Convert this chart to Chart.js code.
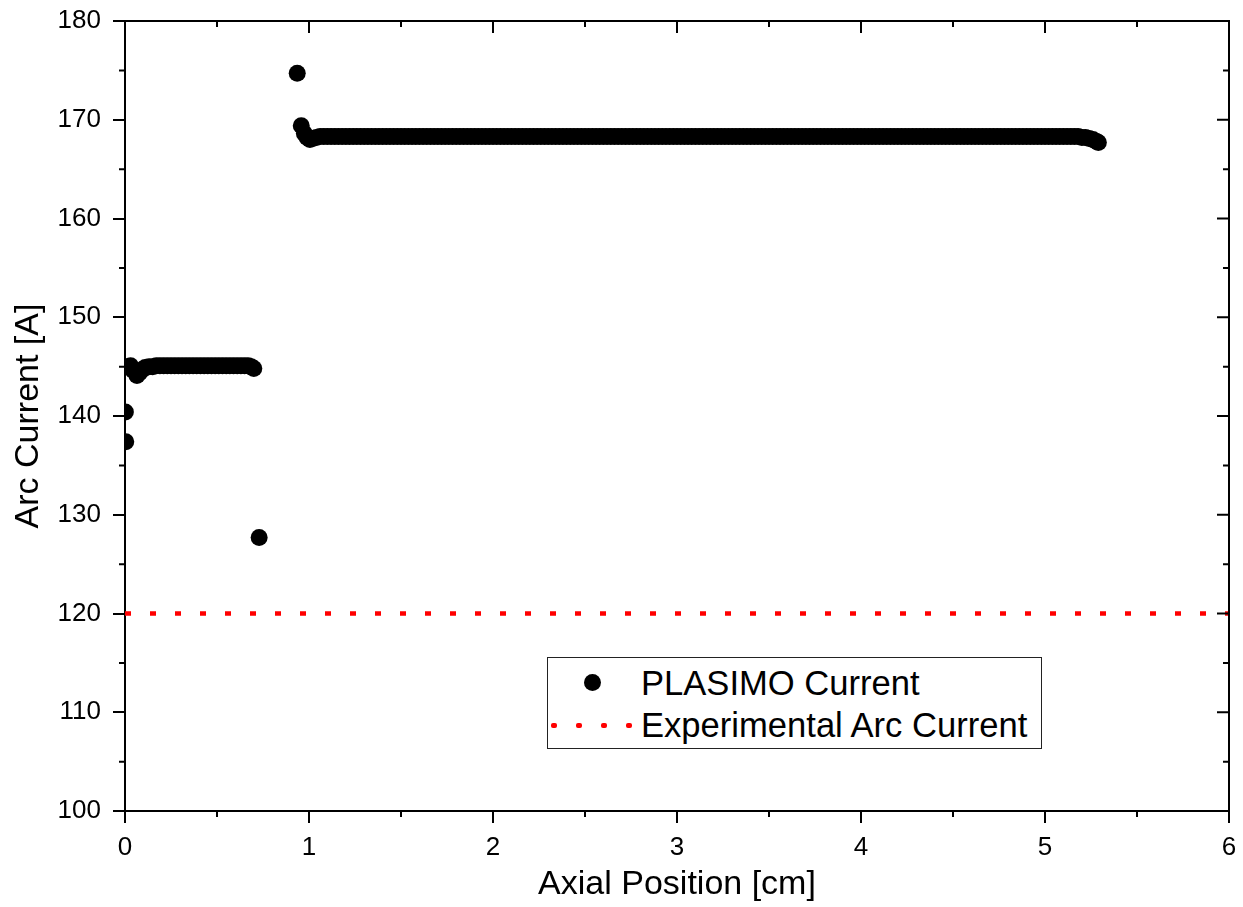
<!DOCTYPE html>
<html>
<head>
<meta charset="utf-8">
<script src="https://cdn.jsdelivr.net/npm/chart.js@4/dist/chart.umd.min.js"></script>
<style>
  html, body { margin: 0; padding: 0; background: #fff; }
  #wrap { position: relative; width: 1243px; height: 907px; }
  #legend {
    position: absolute; left: 547px; top: 657px; width: 493px; height: 90px;
    border: 1.5px solid #222; background: #fff;
    font-family: "Liberation Sans", Arial, sans-serif; font-size: 34.6px; color: #000;
  }
  .row { position: absolute; left: 0; height: 40px; line-height: 40px; white-space: nowrap; }
  .row span.t { position: absolute; left: 93px; top: 0; }
  .dot { position: absolute; width: 17px; height: 17px; border-radius: 50%; background: #000; left: 36px; top: 11px; }
  .rdot { position: absolute; width: 6px; height: 4.5px; background: #ff0000; top: 18px; border-radius: 2px; }
</style>
</head>
<body>
<div id="wrap">
  <canvas id="c" width="1243" height="907"></canvas>
  <div id="legend">
    <div class="row" style="top:5px;"><div class="dot"></div><span class="t">PLASIMO Current</span></div>
    <div class="row" style="top:47px;">
      <div class="rdot" style="left:3px"></div><div class="rdot" style="left:28px"></div>
      <div class="rdot" style="left:53px"></div><div class="rdot" style="left:78px"></div>
      <span class="t">Experimental Arc Current</span>
    </div>
  </div>
</div>
<script>
// ---- data (PLASIMO current, in segments) ----
const startX = [
  0.002, 0.004, 0.015, 0.030, 0.045, 0.065, 0.080, 0.095, 0.110, 0.130, 0.150,
  0.170, 0.190, 0.210, 0.230, 0.250, 0.270, 0.290, 0.310, 0.330, 0.350, 0.370, 0.390, 0.410,
  0.430, 0.450, 0.470, 0.490, 0.510, 0.530, 0.550, 0.570, 0.590, 0.610, 0.630, 0.650, 0.670,
  0.685, 0.700, 0.729
];
const startY = [
  140.4, 137.4, 145.0, 145.1, 144.6, 144.1, 144.4, 144.7, 144.9, 145.0, 145.0,
  145.1, 145.1, 145.1, 145.1, 145.1, 145.1, 145.1, 145.1, 145.1, 145.1, 145.1, 145.1, 145.1,
  145.1, 145.1, 145.1, 145.1, 145.1, 145.1, 145.1, 145.1, 145.1, 145.1, 145.1, 145.1, 145.1,
  145.0, 144.8, 127.7
];
const jumpX = [0.936, 0.958, 0.975, 0.990, 1.005, 1.020];
const jumpY = [174.7, 169.4, 168.6, 168.2, 168.0, 168.1];
const plateauX = [
  1.04, 1.06, 1.08, 1.10, 1.12, 1.14, 1.16, 1.18, 1.20, 1.22, 1.24, 1.26, 1.28, 1.30, 1.32, 1.34, 1.36, 1.38, 1.40, 1.42, 1.44, 1.46, 1.48,
  1.50, 1.52, 1.54, 1.56, 1.58, 1.60, 1.62, 1.64, 1.66, 1.68, 1.70, 1.72, 1.74, 1.76, 1.78, 1.80, 1.82, 1.84, 1.86, 1.88, 1.90, 1.92, 1.94, 1.96, 1.98,
  2.00, 2.02, 2.04, 2.06, 2.08, 2.10, 2.12, 2.14, 2.16, 2.18, 2.20, 2.22, 2.24, 2.26, 2.28, 2.30, 2.32, 2.34, 2.36, 2.38, 2.40, 2.42, 2.44, 2.46, 2.48,
  2.50, 2.52, 2.54, 2.56, 2.58, 2.60, 2.62, 2.64, 2.66, 2.68, 2.70, 2.72, 2.74, 2.76, 2.78, 2.80, 2.82, 2.84, 2.86, 2.88, 2.90, 2.92, 2.94, 2.96, 2.98,
  3.00, 3.02, 3.04, 3.06, 3.08, 3.10, 3.12, 3.14, 3.16, 3.18, 3.20, 3.22, 3.24, 3.26, 3.28, 3.30, 3.32, 3.34, 3.36, 3.38, 3.40, 3.42, 3.44, 3.46, 3.48,
  3.50, 3.52, 3.54, 3.56, 3.58, 3.60, 3.62, 3.64, 3.66, 3.68, 3.70, 3.72, 3.74, 3.76, 3.78, 3.80, 3.82, 3.84, 3.86, 3.88, 3.90, 3.92, 3.94, 3.96, 3.98,
  4.00, 4.02, 4.04, 4.06, 4.08, 4.10, 4.12, 4.14, 4.16, 4.18, 4.20, 4.22, 4.24, 4.26, 4.28, 4.30, 4.32, 4.34, 4.36, 4.38, 4.40, 4.42, 4.44, 4.46, 4.48,
  4.50, 4.52, 4.54, 4.56, 4.58, 4.60, 4.62, 4.64, 4.66, 4.68, 4.70, 4.72, 4.74, 4.76, 4.78, 4.80, 4.82, 4.84, 4.86, 4.88, 4.90, 4.92, 4.94, 4.96, 4.98,
  5.00, 5.02, 5.04, 5.06, 5.08, 5.10, 5.12, 5.14, 5.16, 5.18
];
const plateauY = [
  168.2, 168.3, 168.3, 168.3, 168.3, 168.3, 168.3, 168.3, 168.3, 168.3, 168.3, 168.3, 168.3, 168.3, 168.3, 168.3, 168.3, 168.3, 168.3, 168.3, 168.3, 168.3, 168.3,
  168.3, 168.3, 168.3, 168.3, 168.3, 168.3, 168.3, 168.3, 168.3, 168.3, 168.3, 168.3, 168.3, 168.3, 168.3, 168.3, 168.3, 168.3, 168.3, 168.3, 168.3, 168.3, 168.3, 168.3, 168.3,
  168.3, 168.3, 168.3, 168.3, 168.3, 168.3, 168.3, 168.3, 168.3, 168.3, 168.3, 168.3, 168.3, 168.3, 168.3, 168.3, 168.3, 168.3, 168.3, 168.3, 168.3, 168.3, 168.3, 168.3, 168.3,
  168.3, 168.3, 168.3, 168.3, 168.3, 168.3, 168.3, 168.3, 168.3, 168.3, 168.3, 168.3, 168.3, 168.3, 168.3, 168.3, 168.3, 168.3, 168.3, 168.3, 168.3, 168.3, 168.3, 168.3, 168.3,
  168.3, 168.3, 168.3, 168.3, 168.3, 168.3, 168.3, 168.3, 168.3, 168.3, 168.3, 168.3, 168.3, 168.3, 168.3, 168.3, 168.3, 168.3, 168.3, 168.3, 168.3, 168.3, 168.3, 168.3, 168.3,
  168.3, 168.3, 168.3, 168.3, 168.3, 168.3, 168.3, 168.3, 168.3, 168.3, 168.3, 168.3, 168.3, 168.3, 168.3, 168.3, 168.3, 168.3, 168.3, 168.3, 168.3, 168.3, 168.3, 168.3, 168.3,
  168.3, 168.3, 168.3, 168.3, 168.3, 168.3, 168.3, 168.3, 168.3, 168.3, 168.3, 168.3, 168.3, 168.3, 168.3, 168.3, 168.3, 168.3, 168.3, 168.3, 168.3, 168.3, 168.3, 168.3, 168.3,
  168.3, 168.3, 168.3, 168.3, 168.3, 168.3, 168.3, 168.3, 168.3, 168.3, 168.3, 168.3, 168.3, 168.3, 168.3, 168.3, 168.3, 168.3, 168.3, 168.3, 168.3, 168.3, 168.3, 168.3, 168.3,
  168.3, 168.3, 168.3, 168.3, 168.3, 168.3, 168.3, 168.3, 168.3, 168.3
];
const tailX = [5.20, 5.22, 5.24, 5.26, 5.28, 5.29];
const tailY = [168.2, 168.2, 168.1, 168.0, 167.8, 167.7];

const experimentalX = [0, 6];
const experimentalY = [120, 120];

const xMajorTicks = [0, 1, 2, 3, 4, 5, 6];
const xMinorTicks = [0.5, 1.5, 2.5, 3.5, 4.5, 5.5];
const yMajorTicks = [100, 110, 120, 130, 140, 150, 160, 170, 180];
const yMinorTicks = [105, 115, 125, 135, 145, 155, 165, 175];

const FONT = '"Liberation Sans", Arial, sans-serif';

function pairs(xs, ys) {
  const out = [];
  const n = Math.min(xs.length, ys.length);
  for (let i = 0; i < n; i++) out.push({ x: xs[i], y: ys[i] });
  return out;
}
const plasimoPoints = [].concat(
  pairs(startX, startY), pairs(jumpX, jumpY), pairs(plateauX, plateauY), pairs(tailX, tailY)
);

const framePlugin = {
  id: 'frame',
  afterDraw(chart) {
    const { ctx, chartArea: a, scales: { x, y } } = chart;
    ctx.save();
    ctx.strokeStyle = '#000';
    ctx.lineWidth = 2;
    ctx.beginPath();
    ctx.moveTo(a.left - 1, a.top);
    ctx.lineTo(a.right, a.top);
    ctx.lineTo(a.right, a.bottom + 1);
    for (const v of xMajorTicks) {
      const p = x.getPixelForValue(v);
      ctx.moveTo(p, a.top); ctx.lineTo(p, a.top + 12);
    }
    for (const v of yMajorTicks) {
      const p = y.getPixelForValue(v);
      ctx.moveTo(a.right, p); ctx.lineTo(a.right - 12, p);
    }
    for (const v of xMinorTicks) {
      const p = x.getPixelForValue(v);
      ctx.moveTo(p, a.bottom); ctx.lineTo(p, a.bottom + 6);
      ctx.moveTo(p, a.top); ctx.lineTo(p, a.top + 6);
    }
    for (const v of yMinorTicks) {
      const p = y.getPixelForValue(v);
      ctx.moveTo(a.left, p); ctx.lineTo(a.left - 6, p);
      ctx.moveTo(a.right, p); ctx.lineTo(a.right - 6, p);
    }
    ctx.stroke();
    ctx.restore();
  }
};

new Chart(document.getElementById('c'), {
  type: 'scatter',
  data: {
    datasets: [
      {
        label: 'PLASIMO Current',
        data: plasimoPoints,
        pointRadius: 8.5,
        pointBorderWidth: 0,
        backgroundColor: '#000',
        borderColor: '#000',
        clip: 0
      },
      {
        label: 'Experimental Arc Current',
        data: pairs(experimentalX, experimentalY),
        showLine: true,
        pointRadius: 0,
        borderColor: '#ff0000',
        borderWidth: 4.5,
        borderDash: [6, 19],
        borderCapStyle: 'butt'
      }
    ]
  },
  options: {
    responsive: false,
    animation: false,
    layout: { padding: { left: 0, right: 14, top: 21, bottom: 0 } },
    plugins: { legend: { display: false }, tooltip: { enabled: false } },
    scales: {
      x: {
        type: 'linear', min: 0, max: 6, z: 1,
        afterFit(s) { s.height = 96; s.paddingLeft = 0; s.paddingRight = 0; },
        ticks: { stepSize: 1, autoSkip: false, maxRotation: 0, color: '#000', padding: 9,
                 font: { family: FONT, size: 26 } },
        grid: { drawOnChartArea: false, drawTicks: true, tickLength: 12, color: '#000', lineWidth: 2 },
        border: { display: true, color: '#000', width: 2 },
        title: { display: true, text: 'Axial Position [cm]', color: '#000',
                 font: { family: FONT, size: 34 }, padding: { top: 0, bottom: 2 } }
      },
      y: {
        type: 'linear', min: 100, max: 180, z: 1,
        afterFit(s) { s.width = 125; s.paddingTop = 0; s.paddingBottom = 0; },
        ticks: { stepSize: 10, autoSkip: false, color: '#000', padding: 12,
                 font: { family: FONT, size: 26 } },
        grid: { drawOnChartArea: false, drawTicks: true, tickLength: 12, color: '#000', lineWidth: 2 },
        border: { display: true, color: '#000', width: 2 },
        title: { display: true, text: 'Arc Current [A]', color: '#000',
                 font: { family: FONT, size: 34 }, padding: { top: 8, bottom: 0 } }
      }
    }
  },
  plugins: [framePlugin]
});
</script>
</body>
</html>
